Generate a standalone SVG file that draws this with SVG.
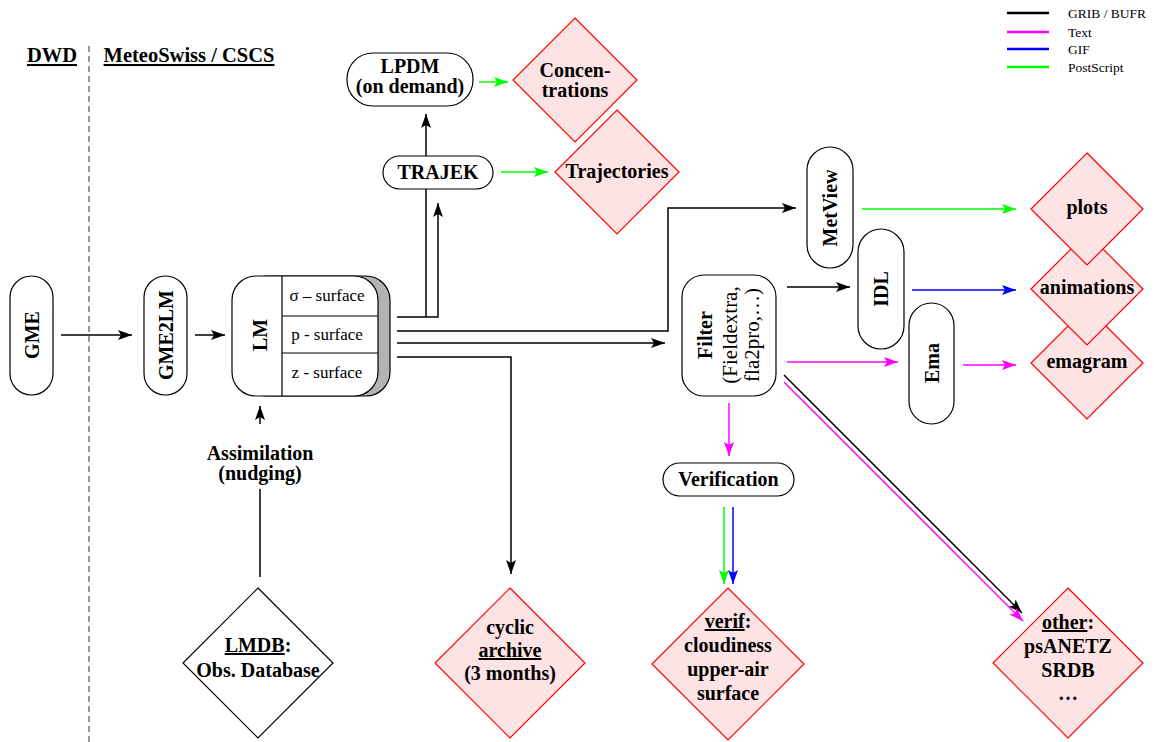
<svg xmlns="http://www.w3.org/2000/svg" width="1154" height="742" viewBox="0 0 1154 742">
<style>
.pill{fill:#fff;stroke:#000;stroke-width:1.2}
.dia{fill:#fde3e3;stroke:#f00;stroke-width:1.2}
.b{font-family:"Liberation Serif",serif;font-weight:bold;font-size:20px;fill:#000;text-anchor:middle}
.n{font-family:"Liberation Serif",serif;font-size:17px;fill:#000;text-anchor:middle}
.lg{font-family:"Liberation Serif",serif;font-size:13.5px;fill:#000}
.u{text-decoration:underline}
.k{fill:none;stroke:#000;stroke-width:1.5}
.g{fill:none;stroke:#00ff00;stroke-width:1.5}
.m{fill:none;stroke:#ff00ff;stroke-width:1.5}
.bl{fill:none;stroke:#0000ff;stroke-width:1.5}
</style>
<defs>
<marker id="ak" markerUnits="userSpaceOnUse" markerWidth="14" markerHeight="10" refX="14" refY="5" orient="auto"><path d="M0,0 L14,5 L0,10 L3,5 z" fill="#000"/></marker>
<marker id="ag" markerUnits="userSpaceOnUse" markerWidth="14" markerHeight="10" refX="14" refY="5" orient="auto"><path d="M0,0 L14,5 L0,10 L3,5 z" fill="#00ff00"/></marker>
<marker id="am" markerUnits="userSpaceOnUse" markerWidth="14" markerHeight="10" refX="14" refY="5" orient="auto"><path d="M0,0 L14,5 L0,10 L3,5 z" fill="#ff00ff"/></marker>
<marker id="ab" markerUnits="userSpaceOnUse" markerWidth="14" markerHeight="10" refX="14" refY="5" orient="auto"><path d="M0,0 L14,5 L0,10 L3,5 z" fill="#0000ff"/></marker>
</defs>
<rect width="1154" height="742" fill="#fff"/>

<g id="header">
<text class="b u" x="52" y="62" style="font-size:20.5px">DWD</text>
<text class="b u" x="189" y="62" style="font-size:20.5px">MeteoSwiss / CSCS</text>
<line x1="89" y1="46" x2="89" y2="742" stroke="#555" stroke-width="1.2" stroke-dasharray="6,4"/>
</g>

<g id="legend">
<line x1="1007" y1="13" x2="1049" y2="13" stroke="#000" stroke-width="2.5"/>
<line x1="1007" y1="32" x2="1049" y2="32" stroke="#ff00ff" stroke-width="2.5"/>
<line x1="1007" y1="49" x2="1049" y2="49" stroke="#0000ff" stroke-width="2.5"/>
<line x1="1007" y1="67" x2="1049" y2="67" stroke="#00ff00" stroke-width="2.5"/>
<text class="lg" x="1068" y="18">GRIB / BUFR</text>
<text class="lg" x="1068" y="37">Text</text>
<text class="lg" x="1068" y="54">GIF</text>
<text class="lg" x="1068" y="72">PostScript</text>
</g>

<g id="connectors">
<line class="k" x1="61" y1="335" x2="132" y2="335" marker-end="url(#ak)"/>
<line class="k" x1="195" y1="335" x2="225" y2="335" marker-end="url(#ak)"/>
<path class="k" d="M397,317 H438 V203" marker-end="url(#ak)"/>
<path class="k" d="M426,317 V114" marker-end="url(#ak)"/>
<path class="k" d="M397,331 H668 V208 H796" marker-end="url(#ak)"/>
<line class="k" x1="397" y1="343" x2="665" y2="343" marker-end="url(#ak)"/>
<path class="k" d="M397,357 H511 V574" marker-end="url(#ak)"/>
<line class="k" x1="260" y1="577" x2="260" y2="489"/>
<line class="k" x1="260" y1="424" x2="260" y2="406" marker-end="url(#ak)"/>
<line class="g" x1="479" y1="82" x2="508" y2="82" marker-end="url(#ag)"/>
<line class="g" x1="501" y1="172" x2="548" y2="172" marker-end="url(#ag)"/>
<line class="g" x1="862" y1="209" x2="1016" y2="209" marker-end="url(#ag)"/>
<line class="k" x1="787" y1="287" x2="850" y2="287" marker-end="url(#ak)"/>
<line class="bl" x1="912" y1="290" x2="1016" y2="290" marker-end="url(#ab)"/>
<line class="m" x1="787" y1="362" x2="898" y2="362" marker-end="url(#am)"/>
<line class="m" x1="963" y1="365" x2="1016" y2="365" marker-end="url(#am)"/>
<line class="m" x1="729" y1="403" x2="729" y2="456" marker-end="url(#am)"/>
<line class="g" x1="724" y1="507" x2="724" y2="584" marker-end="url(#ag)"/>
<line class="bl" x1="733" y1="507" x2="733" y2="584" marker-end="url(#ab)"/>
<line class="k" x1="784" y1="375" x2="1022" y2="613" marker-end="url(#ak)"/>
<line class="m" x1="784" y1="382" x2="1023" y2="621" marker-end="url(#am)"/>
</g>

<g id="GME">
<rect class="pill" x="10" y="276" width="43" height="119" rx="21.5"/>
<text class="b" transform="translate(32,335) rotate(-90)" x="0" y="7">GME</text>
</g>
<g id="GME2LM">
<rect class="pill" x="144" y="276" width="43" height="119" rx="21.5"/>
<text class="b" transform="translate(165.5,335) rotate(-90)" x="0" y="7">GME2LM</text>
</g>
<g id="LM">
<rect x="242" y="276" width="148" height="120" rx="24" fill="#b3b3b3" stroke="#000" stroke-width="1.2"/>
<rect class="pill" x="232" y="276" width="146" height="120" rx="24"/>
<line x1="282" y1="276" x2="282" y2="396" stroke="#000" stroke-width="1.2"/>
<line x1="282" y1="316" x2="378" y2="316" stroke="#000" stroke-width="1.2"/>
<line x1="282" y1="353" x2="378" y2="353" stroke="#000" stroke-width="1.2"/>
<text class="b" transform="translate(260,335) rotate(-90)" x="0" y="7">LM</text>
<text class="n" x="327" y="301">σ – surface</text>
<text class="n" x="327" y="340">p - surface</text>
<text class="n" x="327" y="378">z - surface</text>
</g>
<g id="LPDM">
<rect class="pill" x="347" y="53" width="126" height="53" rx="26"/>
<text class="b" x="410" y="73">LPDM</text>
<text class="b" x="410" y="93">(on demand)</text>
</g>
<g id="TRAJEK">
<rect class="pill" x="383" y="156" width="110" height="33" rx="16.5"/>
<text class="b" x="438" y="179">TRAJEK</text>
</g>
<g id="Concentrations">
<polygon class="dia" points="575,18 637,80 575,142 513,80"/>
<text class="b" x="575" y="77">Concen-</text>
<text class="b" x="575" y="97">trations</text>
</g>
<g id="Trajectories">
<polygon class="dia" points="617,110 679,172 617,234 555,172"/>
<text class="b" x="617" y="178">Trajectories</text>
</g>
<g id="MetView">
<rect class="pill" x="807" y="147" width="46" height="121" rx="23"/>
<text class="b" transform="translate(830,208) rotate(-90)" x="0" y="7">MetView</text>
</g>
<g id="IDL">
<rect class="pill" x="858" y="229" width="46" height="120" rx="23"/>
<text class="b" transform="translate(881,289) rotate(-90)" x="0" y="7">IDL</text>
</g>
<g id="Ema">
<rect class="pill" x="909" y="303" width="45" height="121" rx="22.5"/>
<text class="b" transform="translate(931.5,363) rotate(-90)" x="0" y="7">Ema</text>
</g>
<g id="emagram">
<polygon class="dia" points="1087,307 1143,363 1087,419 1031,363"/>
<text class="b" x="1087" y="368">emagram</text>
</g>
<g id="animations">
<polygon class="dia" points="1087,233 1143,289 1087,345 1031,289"/>
<text class="b" x="1087" y="294">animations</text>
</g>
<g id="plots">
<polygon class="dia" points="1087,153 1143,209 1087,265 1031,209"/>
<text class="b" x="1087" y="214">plots</text>
</g>
<g id="Filter">
<rect class="pill" x="682" y="275" width="94" height="121" rx="22"/>
<g transform="translate(729,335) rotate(-90)">
<text class="b" x="0" y="-17">Filter</text>
<text class="n" x="0" y="8" style="font-size:21px">(Fieldextra,</text>
<text class="n" x="0" y="30" style="font-size:21px">fla2pro,…)</text>
</g>
</g>
<g id="Verification">
<rect class="pill" x="663" y="463" width="131" height="33" rx="16.5"/>
<text class="b" x="728.5" y="486">Verification</text>
</g>
<g id="verif">
<polygon class="dia" points="728,588 804,664 728,740 652,664"/>
<text class="b" x="728" y="628"><tspan class="u">verif</tspan>:</text>
<text class="b" x="728" y="652">cloudiness</text>
<text class="b" x="728" y="676">upper-air</text>
<text class="b" x="728" y="700">surface</text>
</g>
<g id="archive">
<polygon class="dia" points="510,588 585,663 510,738 435,663"/>
<text class="b" x="510" y="634">cyclic</text>
<text class="b u" x="510" y="657">archive</text>
<text class="b" x="510" y="680">(3 months)</text>
</g>
<g id="other">
<polygon class="dia" points="1068,588 1143,663 1068,738 993,663"/>
<text class="b" x="1068" y="629"><tspan class="u">other</tspan>:</text>
<text class="b" x="1068" y="653">psANETZ</text>
<text class="b" x="1068" y="677">SRDB</text>
<text class="b" x="1068" y="700">…</text>
</g>
<g id="LMDB">
<polygon points="258,588 333,663 258,738 183,663" fill="#fff" stroke="#000" stroke-width="1.2"/>
<text class="b" x="258" y="652"><tspan class="u">LMDB</tspan>:</text>
<text class="b" x="258" y="677">Obs. Database</text>
</g>
<g id="assim-label">
<text class="b" x="260" y="460">Assimilation</text>
<text class="b" x="260" y="480">(nudging)</text>
</g>
</svg>
